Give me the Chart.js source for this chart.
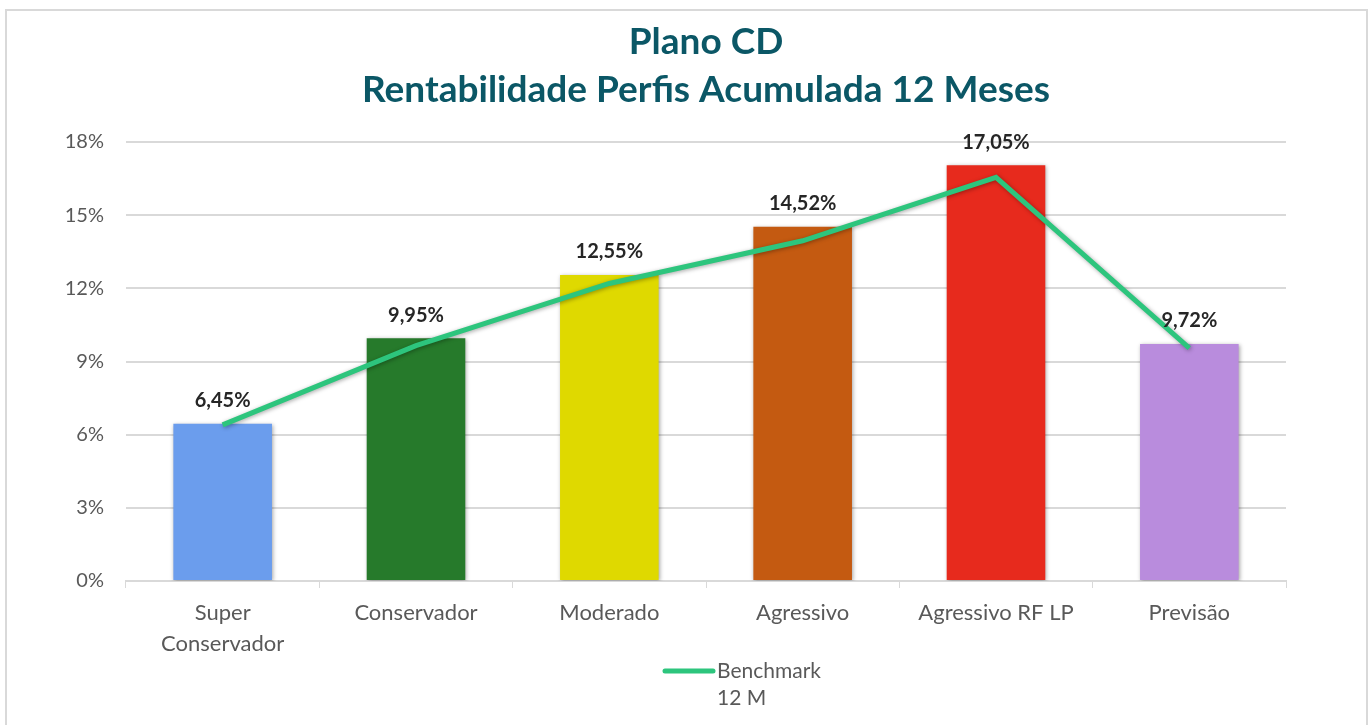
<!DOCTYPE html>
<html lang="pt-BR">
<head>
<meta charset="utf-8">
<title>Plano CD - Rentabilidade Perfis</title>
<script src="https://cdn.jsdelivr.net/npm/chart.js@4.4.1/dist/chart.umd.min.js"></script>
<style>
    html, body { margin: 0; padding: 0; background: #fff; }
    #wrap { position: relative; width: 1371px; height: 725px; }
    #frame {
        position: absolute; left: 5px; top: 9px; width: 1359px; height: 730px;
        border: 2px solid #d9d9d9; pointer-events: none;
    }
    canvas { display: block; }
</style>
</head>
<body>
<div id="wrap">
    <canvas id="chart" width="1371" height="725"></canvas>
    <div id="frame"></div>
</div>
<script>
const categories = [['Super', 'Conservador'], 'Conservador', 'Moderado', 'Agressivo', 'Agressivo RF LP', 'Previsão'];
const profileReturns = [6.45, 9.95, 12.55, 14.52, 17.05, 9.72];
const benchmark12m = [6.4, 9.65, 12.2, 13.95, 16.55, 9.55];
const barColors = ['#6b9ded', '#267a2b', '#dfd900', '#c45a11', '#e72a1d', '#b98cdd'];
const yTicks = [0, 3, 6, 9, 12, 15, 18];
const titleLines = ['Plano CD', 'Rentabilidade Perfis Acumulada 12 Meses'];

const FONT = 'Lato, "Open Sans", sans-serif';
const GRAY = '#595959';

function pct(v) {
    return v.toFixed(2).replace('.', ',') + '%';
}

// two-line title centred over the plot area
const plotTitle = {
    id: 'plotTitle',
    afterDraw(chart) {
        const ctx = chart.ctx;
        const area = chart.chartArea;
        const cx = (area.left + area.right) / 2;
        ctx.save();
        ctx.font = 'bold 37px ' + FONT;
        ctx.fillStyle = '#0b5766';
        ctx.textAlign = 'center';
        ctx.textBaseline = 'middle';
        titleLines.forEach((line, i) => ctx.fillText(line, cx, 42 + i * 48));
        ctx.restore();
    }
};

// soft drop shadow under the bars and the line
const shadowPlugin = {
    id: 'shadow',
    beforeDatasetDraw(chart) {
        const ctx = chart.ctx;
        ctx.save();
        ctx.shadowColor = 'rgba(0,0,0,0.35)';
        ctx.shadowBlur = 4;
        ctx.shadowOffsetX = 1;
        ctx.shadowOffsetY = 1;
    },
    afterDatasetDraw(chart) {
        chart.ctx.restore();
    }
};

// value labels above each bar
const barLabels = {
    id: 'barLabels',
    afterDatasetsDraw(chart) {
        const ctx = chart.ctx;
        const meta = chart.getDatasetMeta(0);
        const yScale = chart.scales.y;
        ctx.save();
        ctx.font = 'bold 20px ' + FONT;
        ctx.fillStyle = '#262626';
        ctx.textAlign = 'center';
        ctx.textBaseline = 'bottom';
        meta.data.forEach((bar, i) => {
            const v = profileReturns[i];
            ctx.fillText(pct(v), bar.x, yScale.getPixelForValue(v) - 13);
        });
        ctx.restore();
    }
};

// legend entry under the axis, text on two lines
const bottomLegend = {
    id: 'bottomLegend',
    afterDraw(chart) {
        const ctx = chart.ctx;
        const ds = chart.data.datasets[1];
        const x0 = 662, y0 = 671;
        ctx.save();
        ctx.strokeStyle = ds.borderColor;
        ctx.lineWidth = 5;
        ctx.lineCap = 'round';
        ctx.beginPath();
        ctx.moveTo(x0 + 3, y0);
        ctx.lineTo(x0 + 51, y0);
        ctx.stroke();
        ctx.font = '21px ' + FONT;
        ctx.fillStyle = GRAY;
        ctx.textAlign = 'left';
        ctx.textBaseline = 'middle';
        ds.label.forEach((line, i) => ctx.fillText(line, x0 + 55, y0 + i * 27));
        ctx.restore();
    }
};

new Chart(document.getElementById('chart'), {
    data: {
        labels: categories,
        datasets: [{
            type: 'bar',
            label: 'Rentabilidade',
            data: profileReturns,
            backgroundColor: barColors,
            barPercentage: 0.51,
            categoryPercentage: 1,
            order: 1
        }, {
            type: 'line',
            label: ['Benchmark', '12 M'],
            data: benchmark12m,
            borderColor: '#2dc57d',
            borderWidth: 5,
            pointRadius: 0,
            tension: 0,
            order: 0
        }]
    },
    options: {
        responsive: false,
        animation: false,
        layout: { padding: { left: 59, right: 85, top: 142, bottom: 0 } },
        plugins: {
            legend: { display: false },
            tooltip: { enabled: false },
            title: { display: false }
        },
        scales: {
            x: {
                grid: {
                    display: true,
                    offset: true,
                    drawOnChartArea: false,
                    drawTicks: true,
                    tickLength: 7,
                    color: '#d9d9d9'
                },
                border: { color: '#d9d9d9', width: 2 },
                ticks: {
                    color: GRAY,
                    font: { family: FONT, size: 22, lineHeight: 1.4 },
                    padding: 10,
                    maxRotation: 0
                },
                afterFit(scale) { scale.height = 144; }
            },
            y: {
                min: 0,
                max: 18,
                afterBuildTicks(scale) { scale.ticks = yTicks.map(v => ({ value: v })); },
                grid: { color: '#d9d9d9', lineWidth: 2, drawTicks: false },
                border: { display: false },
                ticks: {
                    color: GRAY,
                    font: { family: FONT, size: 20 },
                    padding: 22,
                    callback: v => v + '%'
                },
                afterFit(scale) { scale.width = 67; }
            }
        }
    },
    plugins: [plotTitle, shadowPlugin, barLabels, bottomLegend]
});
</script>
</body>
</html>
